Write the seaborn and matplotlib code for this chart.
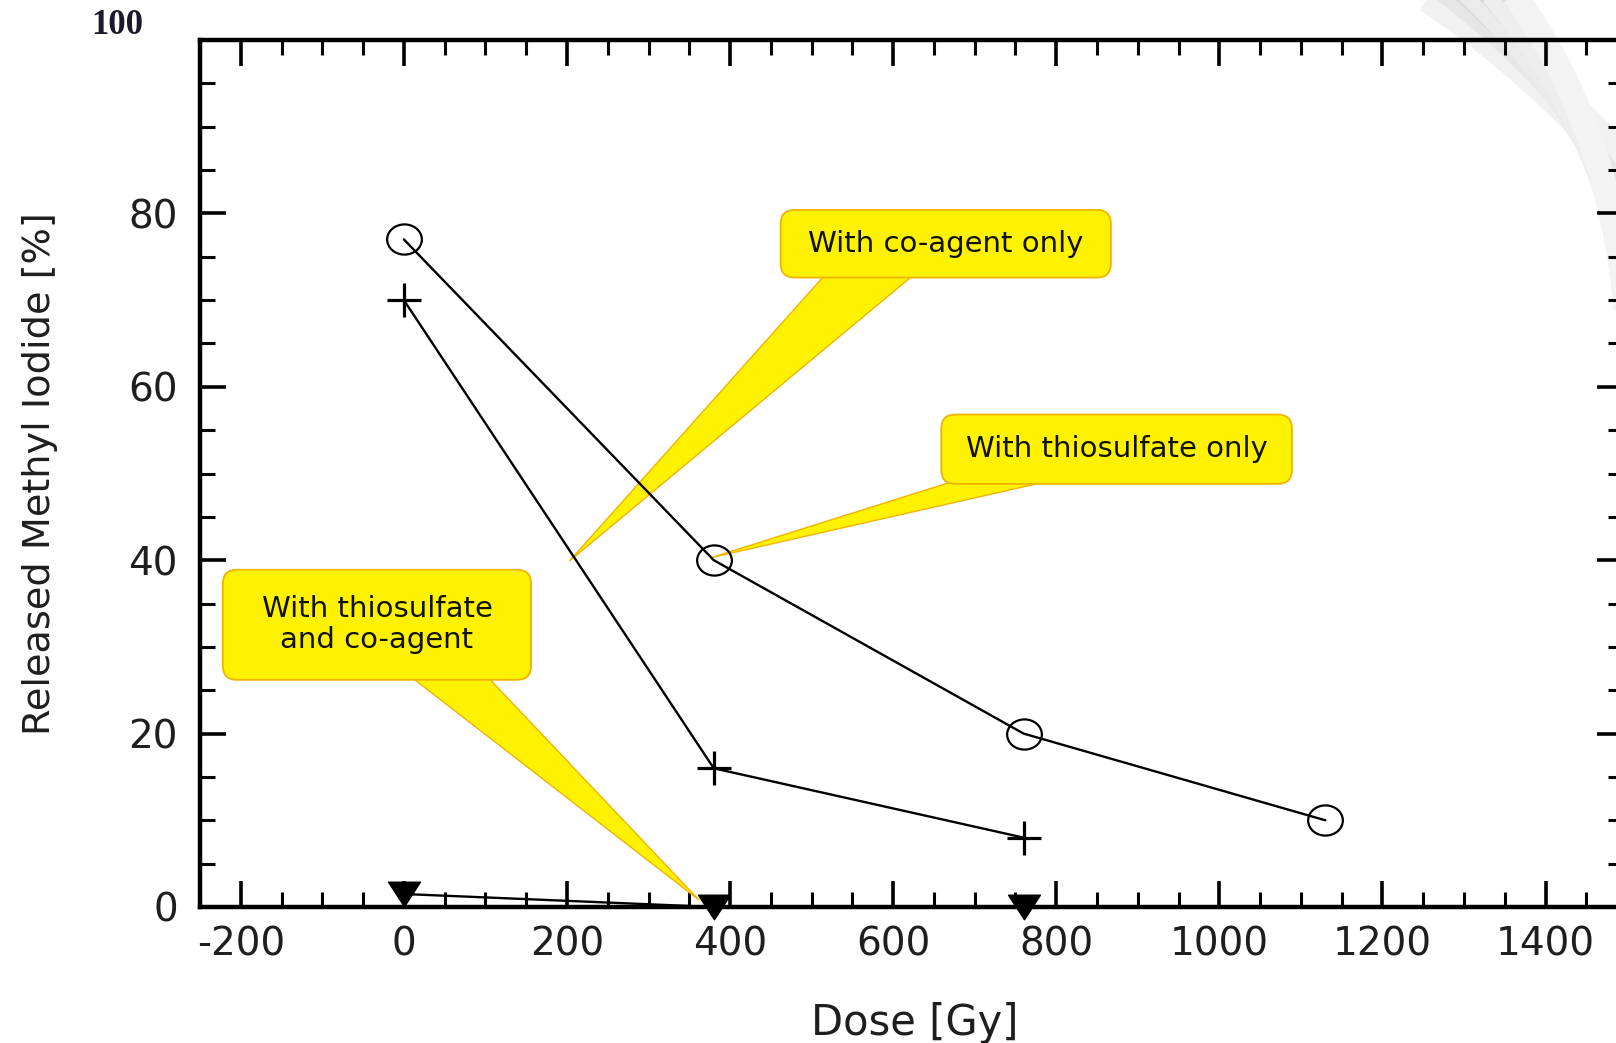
import matplotlib

matplotlib.use("Agg")
import matplotlib.pyplot as plt
import matplotlib.ticker as ticker
from matplotlib.patches import FancyBboxPatch, Polygon, PathPatch
from matplotlib.path import Path
from matplotlib.transforms import IdentityTransform, Affine2D
import seaborn as sns

sns.set_theme(style="ticks")
plt.rcParams["font.family"] = ["DejaVu Sans"]
plt.rcParams["axes.unicode_minus"] = False

# data
dose_circle = [0, 380, 760, 1130]
released_circle = [77, 40, 20, 10]
dose_plus = [0, 380, 760]
released_plus = [70, 16, 8]
dose_tri = [0, 380, 760]
released_tri = [1.5, 0, 0]

x_ticks = [-200, 0, 200, 400, 600, 800, 1000, 1200, 1400]
y_ticks = [0, 20, 40, 60, 80, 100]
y_ticklabels = ["0", "20", "40", "60", "80", ""]  # 100 is printed separately

# callouts (data units)
callout_labels = ["With co-agent only", "With thiosulfate only", "With thiosulfate\nand co-agent"]
callout_box_x = [(462, 867), (659, 1089), (-222, 156)]
callout_box_y = [(72.6, 80.4), (48.8, 56.8), (26.2, 38.9)]
callout_base_x = [(520, 630), (687, 808), (4, 99)]
callout_tip = [(203, 39.9), (377, 40.3), (362, 0.8)]

YELLOW = "#fff200"
EDGE = "#f0b400"

fig = plt.figure(figsize=(16.16, 10.43), dpi=100)
W, H = 1616, 1043

# faint grey swoosh in the top right corner (slide decoration)
swoosh = [(26, "#f1f1f1"), (10, "#e6e6e6"), (4, "#d9d9d9"), (12, "#ebebeb"),
          (3, "#d4d4d4"), (14, "#eeeeee"), (5, "#dedede"), (18, "#f3f3f3")]
for i, (lw, col) in enumerate(swoosh):
    x0 = 1430 + 12 * i
    verts = [(x0, H + 5), (1540 + 10 * i, H - 70 - 8 * i), (W + 10, H - 170 - 20 * i)]
    p = PathPatch(Path(verts, [Path.MOVETO, Path.CURVE3, Path.CURVE3]), fill=False,
                  ec=col, lw=lw, transform=IdentityTransform(), zorder=-2)
    fig.add_artist(p)

ax = fig.add_axes([200 / W, 136 / H, 1423 / W, 867 / H])
ax.patch.set_alpha(0)
ax.set_xlim(-250, 1495)
ax.set_ylim(0, 100)

ellipse = Path.unit_circle().transformed(Affine2D().scale(1.15, 1.0))
tri = Path([(-0.65, 0.5), (0.65, 0.5), (0, -0.5), (-0.65, 0.5)],
           [Path.MOVETO, Path.LINETO, Path.LINETO, Path.CLOSEPOLY])

sns.lineplot(x=dose_circle, y=released_circle, ax=ax, errorbar=None, color="black",
             linewidth=1.7, marker=ellipse, markersize=25, markerfacecolor="none",
             markeredgecolor="black", markeredgewidth=1.6, zorder=4)
sns.lineplot(x=dose_plus, y=released_plus, ax=ax, errorbar=None, color="black",
             linewidth=1.7, marker="+", markersize=24, markeredgecolor="black",
             markeredgewidth=2.3, zorder=4)
sns.lineplot(x=dose_tri, y=released_tri, ax=ax, errorbar=None, color="black",
             linewidth=1.7, marker=tri, markersize=23, markerfacecolor="black",
             markeredgecolor="black", markeredgewidth=1, zorder=4, clip_on=False)

ax.set_xticks(x_ticks)
ax.set_yticks(y_ticks)
ax.set_yticklabels(y_ticklabels)
ax.xaxis.set_minor_locator(ticker.MultipleLocator(50))
ax.yaxis.set_minor_locator(ticker.MultipleLocator(5))
ax.tick_params(which="both", direction="in", top=True, right=True, color="black")
ax.tick_params(which="major", length=19, width=2.6, labelsize=28, labelcolor="#1e1e1e")
ax.tick_params(which="minor", length=10.5, width=2.2)
ax.tick_params(axis="x", which="major", pad=13)
ax.tick_params(axis="y", which="major", pad=16)
for sp in ax.spines.values():
    sp.set_linewidth(3.2)
    sp.set_color("black")

ax.set_xlabel("Dose [Gy]", fontsize=30, color="#1e1e1e")
ax.set_ylabel("Released Methyl Iodide [%]", fontsize=27.5, color="#1e1e1e")
ax.xaxis.set_label_coords(0.502, -0.110)
ax.yaxis.set_label_coords(-0.100, 0.5)

# yellow callouts
fig.canvas.draw()
to_px = ax.transData.transform
for label, bx, by, base, tip in zip(callout_labels, callout_box_x, callout_box_y,
                                     callout_base_x, callout_tip):
    (x0, y0), (x1, y1) = to_px([(bx[0], by[0]), (bx[1], by[1])])
    (bl, bb), (br, _) = to_px([(base[0], by[0]), (base[1], by[0])])
    tx, ty = to_px([tip])[0]
    wedge = Polygon([(bl, bb + 6), (br, bb + 6), (tx, ty)], closed=True,
                    fc=YELLOW, ec=EDGE, lw=1.0, transform=IdentityTransform(),
                    zorder=1.9, clip_on=False)
    ax.add_artist(wedge)
    box = FancyBboxPatch((x0, y0), x1 - x0, y1 - y0,
                         boxstyle="round,pad=0,rounding_size=14",
                         fc=YELLOW, ec=EDGE, lw=1.3, transform=IdentityTransform(),
                         zorder=2, clip_on=False)
    ax.add_artist(box)
    ax.text((x0 + x1) / 2, (y0 + y1) / 2, label, transform=IdentityTransform(),
            ha="center", va="center", fontsize=21, color="#111100",
            linespacing=1.15, zorder=2.1)

# the top tick label is printed in a serif face in the source
fig.text(117 / W, (H - 26) / H, "100", ha="center", va="center",
         family="Liberation Serif", weight="bold", fontsize=25, color="#1a1a2a")

fig.savefig("out.png", dpi=100, facecolor="w")
plt.close()
